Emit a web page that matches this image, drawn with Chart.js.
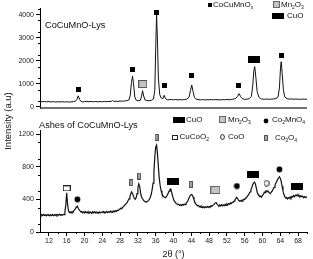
<!DOCTYPE html>
<html>
<head>
<meta charset="utf-8">
<script src="https://cdn.jsdelivr.net/npm/chart.js@4.4.1/dist/chart.umd.min.js"></script>
<style>
  html, body { margin: 0; padding: 0; background: #fff; }
  #wrap { width: 313px; height: 259px; }
</style>
</head>
<body>
<div id="wrap"><canvas id="xrd" width="313" height="259"></canvas></div>
<script>
const thetaTicks = [12, 16, 20, 24, 28, 32, 36, 40, 44, 48, 52, 56, 60, 64, 68];
const topTicks = [0, 500, 1000, 1500, 2000, 2500, 3000, 3500, 4000];
const ashTicks = [0, 200, 400, 600, 800, 1000, 1200];

// [2theta, counts] (CoCuMnO-Lys)
const topPattern = [
  [10,235],[10.5,222],[11,232],[11.5,218],[12,228],[12.5,214],[13,224],[13.5,210],[14,221],[14.5,213],
  [15,224],[15.5,211],[16,219],[16.5,209],[17,217],[17.5,224],[18,250],[18.3,330],[18.6,480],[18.9,320],
  [19.2,240],[19.6,215],[20,228],[20.5,238],[21,222],[21.5,234],[22,220],[22.5,232],[23,218],[23.5,230],
  [24,222],[24.5,236],[25,226],[25.5,232],[26,240],[26.3,275],[26.6,232],[27,246],[27.5,236],[28,254],
  [28.5,244],[29,256],[29.5,268],[30,300],[30.3,520],[30.55,1050],[30.8,1330],[31.05,950],[31.3,430],[31.6,290],
  [32,262],[32.5,280],[32.8,430],[33.05,700],[33.3,470],[33.6,300],[34,272],[34.5,262],[35,280],[35.5,340],
  [35.8,720],[36.0,2500],[36.2,4020],[36.4,2850],[36.6,1250],[36.9,540],[37.2,390],[37.6,350],[37.9,500],[38.2,360],
  [38.6,300],[39,310],[39.5,322],[40,306],[40.5,318],[41,302],[41.5,314],[42,306],[42.5,320],[43,332],
  [43.5,420],[43.8,700],[44.1,950],[44.4,660],[44.7,410],[45,340],[45.5,316],[46,304],[46.5,314],[47,300],
  [47.5,310],[48,304],[48.5,316],[49,306],[49.5,318],[50,308],[50.5,302],[51,314],[51.5,308],[52,318],
  [52.5,310],[53,324],[53.5,336],[54,370],[54.4,460],[54.75,570],[55.1,440],[55.5,350],[56,326],[56.5,334],
  [57,352],[57.5,450],[57.8,900],[58.05,1550],[58.25,1745],[58.5,1300],[58.8,660],[59.2,410],[59.6,350],[60,336],
  [60.5,326],[61,340],[61.5,330],[62,336],[62.5,344],[63,356],[63.5,430],[63.8,820],[64.05,1700],[64.2,1960],
  [64.4,1500],[64.7,720],[65,430],[65.5,356],[66,336],[66.5,344],[67,330],[67.5,340],[68,334],[68.5,326],
  [69,336],[69.5,330],[70,334]
];

// [2theta, counts] (ashes), noisy
const ashPattern = [
  [10,210],[10.2,198],[10.4,214],[10.6,202],[10.8,216],[11,204],[11.2,212],[11.4,199],[11.6,213],[11.8,203],
  [12,209],[12.2,197],[12.4,212],[12.6,201],[12.8,214],[13,200],[13.2,211],[13.4,204],[13.6,216],[13.8,202],
  [14,213],[14.2,205],[14.4,218],[14.6,203],[14.8,214],[15,206],[15.2,216],[15.4,212],[15.6,250],[15.8,330],
  [16,480],[16.2,340],[16.4,262],[16.6,238],[16.8,246],[17,232],[17.2,250],[17.4,242],[17.6,262],[17.8,270],
  [18,292],[18.2,306],[18.4,315],[18.6,290],[18.8,270],[19,258],[19.2,248],[19.4,252],[19.6,236],[19.8,246],
  [20,232],[20.2,250],[20.4,238],[20.6,246],[20.8,230],[21,248],[21.2,236],[21.4,244],[21.6,229],[21.8,247],
  [22,235],[22.2,249],[22.4,233],[22.6,246],[22.8,236],[23,241],[23.2,230],[23.4,247],[23.6,236],[23.8,244],
  [24,238],[24.2,252],[24.4,235],[24.6,246],[24.8,240],[25,253],[25.2,238],[25.4,249],[25.6,242],[25.8,256],
  [26,241],[26.2,254],[26.4,246],[26.6,259],[26.8,248],[27,262],[27.2,252],[27.4,266],[27.6,262],[27.8,276],
  [28,284],[28.2,292],[28.4,288],[28.6,305],[28.8,312],[29,328],[29.2,336],[29.4,350],[29.6,362],[29.8,385],
  [30,405],[30.2,435],[30.4,468],[30.6,492],[30.8,470],[31,440],[31.2,412],[31.4,400],[31.6,418],[31.8,470],
  [32,545],[32.2,590],[32.4,560],[32.6,480],[32.8,432],[33,410],[33.2,392],[33.4,380],[33.6,376],[33.8,368],
  [34,372],[34.2,378],[34.4,388],[34.6,402],[34.8,428],[35,462],[35.2,520],[35.4,600],[35.6,740],[35.8,920],
  [36,1040],[36.2,1065],[36.4,960],[36.6,800],[36.8,660],[37,570],[37.2,510],[37.4,470],[37.6,448],[37.8,432],
  [38,425],[38.2,420],[38.4,432],[38.6,450],[38.8,476],[39,500],[39.2,525],[39.4,528],[39.6,482],[39.8,440],
  [40,400],[40.2,378],[40.4,362],[40.6,350],[40.8,342],[41,336],[41.2,340],[41.4,326],[41.6,334],[41.8,324],
  [42,338],[42.2,328],[42.4,340],[42.6,336],[42.8,352],[43,362],[43.2,380],[43.4,405],[43.6,430],[43.8,450],
  [44,460],[44.2,455],[44.4,430],[44.6,395],[44.8,365],[45,345],[45.2,330],[45.4,322],[45.6,326],[45.8,308],
  [46,316],[46.2,300],[46.4,312],[46.6,298],[46.8,310],[47,296],[47.2,308],[47.4,300],[47.6,314],[47.8,302],
  [48,312],[48.2,306],[48.4,320],[48.6,314],[48.8,328],[49,330],[49.2,344],[49.4,356],[49.6,360],[49.8,342],
  [50,330],[50.2,320],[50.4,332],[50.6,318],[50.8,334],[51,320],[51.2,332],[51.4,322],[51.6,340],[51.8,326],
  [52,344],[52.2,334],[52.4,348],[52.6,338],[52.8,356],[53,348],[53.2,364],[53.4,362],[53.6,378],[53.8,392],
  [54,410],[54.2,425],[54.4,410],[54.6,390],[54.8,378],[55,386],[55.2,376],[55.4,392],[55.6,384],[55.8,402],
  [56,398],[56.2,418],[56.4,420],[56.6,440],[56.8,452],[57,470],[57.2,490],[57.4,515],[57.6,545],[57.8,580],
  [58,600],[58.2,612],[58.4,590],[58.6,540],[58.8,490],[59,460],[59.2,445],[59.4,432],[59.6,440],[59.8,428],
  [60,450],[60.2,462],[60.4,488],[60.6,480],[60.8,505],[61,496],[61.2,505],[61.4,488],[61.6,478],[61.8,470],
  [62,492],[62.2,505],[62.4,525],[62.6,548],[62.8,572],[63,596],[63.2,622],[63.4,645],[63.6,662],[63.8,676],
  [64,660],[64.2,620],[64.4,560],[64.6,505],[64.8,462],[65,432],[65.2,418],[65.4,424],[65.6,406],[65.8,420],
  [66,412],[66.2,430],[66.4,415],[66.6,436],[66.8,428],[67,446],[67.2,432],[67.4,452],[67.6,444],[67.8,458],
  [68,438],[68.2,448],[68.4,428],[68.6,444],[68.8,432],[69,440],[69.2,420],[69.4,434],[69.6,422],[69.8,432],
  [70,424]
];

// phase markers, top pattern
const topSpinelTheta = [18.6, 30.7, 36.2, 37.9, 44.1, 54.7, 64.3];
const topSpinelY = [762, 1600, 4086, 905, 1339, 918, 2207];
const topMn2O3Theta = [33.1];
const topMn2O3Y = [990];
const topCuOTheta = [58.1];
const topCuOY = [2064];

// phase markers, ashes pattern
const ashCuOTheta = [39.9, 57.9, 67.7];
const ashCuOY = [625, 710, 555];
const ashMn2O3Theta = [49.4];
const ashMn2O3Y = [515];
const ashCo2MnO4Theta = [18.4, 54.25, 63.8];
const ashCo2MnO4Y = [400, 563, 768];
const ashCuCoO2Theta = [16.0];
const ashCuCoO2Y = [535];
const ashCoOTheta = [60.9];
const ashCoOY = [597];
const ashCo3O4Theta = [30.5, 32.3, 36.2, 43.9];
const ashCo3O4Y = [604, 686, 1160, 584];

const FONT = '"Liberation Sans", Arial, sans-serif';

function marker(w, h, draw) {
  const c = document.createElement('canvas');
  c.width = w;
  c.height = h;
  draw(c.getContext('2d'), w, h);
  return c;
}
const box = (fill, stroke) => (ctx, w, h) => {
  ctx.fillStyle = fill;
  ctx.fillRect(0, 0, w, h);
  if (stroke) {
    ctx.strokeStyle = stroke;
    ctx.lineWidth = 1;
    ctx.strokeRect(0.5, 0.5, w - 1, h - 1);
  }
};
const disc = (fill, stroke) => (ctx, w, h) => {
  ctx.beginPath();
  ctx.ellipse(w / 2, h / 2, w / 2 - 0.6, h / 2 - 0.6, 0, 0, Math.PI * 2);
  ctx.fillStyle = fill;
  ctx.fill();
  if (stroke) {
    ctx.strokeStyle = stroke;
    ctx.lineWidth = 1;
    ctx.stroke();
  }
};

const marks = {
  spinel: marker(5, 5, box('#000')),
  mn2o3Top: marker(9, 8, box('#c4c4c4', '#555')),
  cuo: marker(12, 7, box('#000')),
  cucoo2: marker(8, 6, box('#fff', '#222')),
  co2mno4: marker(7, 7, disc('#000')),
  co3o4: marker(4, 7, box('#a8a8a8', '#555')),
  mn2o3: marker(10, 8, box('#c4c4c4', '#666')),
  coo: marker(6, 7, disc('#fff', '#222')),
  legSpinel: marker(4, 4, box('#000')),
  legMn2O3: marker(7, 7, box('#c4c4c4', '#666')),
  legCuO: marker(12, 6, box('#000')),
  legCuCoO2: marker(6, 5, box('#fff', '#222')),
  legCo2MnO4: marker(6, 6, disc('#000')),
  legCoO: marker(5, 6, disc('#fff', '#222')),
  legCo3O4: marker(4, 6, box('#a8a8a8', '#555'))
};

const line = (label, pts, axis, width) => ({
  label,
  data: pts.map(p => ({ x: p[0], y: p[1] })),
  yAxisID: axis,
  showLine: true,
  borderColor: '#111',
  borderWidth: width,
  pointRadius: 0,
  tension: 0
});
const dots = (label, theta, vals, axis, style) => ({
  label,
  data: theta.map((t, i) => ({ x: t, y: vals[i] })),
  yAxisID: axis,
  showLine: false,
  pointStyle: style,
  pointRadius: 5
});

function richText(ctx, str, x, y, size) {
  // '_' marks the next character as a subscript
  let cx = x;
  for (let i = 0; i < str.length; i++) {
    let ch = str[i];
    let sub = false;
    if (ch === '_') { sub = true; ch = str[++i]; }
    ctx.font = (sub ? size * 0.62 : size) + 'px ' + FONT;
    ctx.fillText(ch, cx, sub ? y + size * 0.32 : y);
    cx += ctx.measureText(ch).width;
  }
}

const legendItems = [
  [marks.legSpinel, 209.5, 4.5, 'CoCuMnO_x', 213, 5],
  [marks.legMn2O3, 276.5, 4, 'Mn_2O_3', 281, 5],
  [marks.legCuO, 278, 15.5, 'CuO', 287, 16],
  [marks.legCuO, 179, 119.5, 'CuO', 186, 120],
  [marks.legMn2O3, 222.5, 119, 'Mn_2O_3', 228, 120],
  [marks.legCo2MnO4, 266, 120.5, 'Co_2MnO_4', 272, 120],
  [marks.legCuCoO2, 174.5, 137, 'CuCoO_2', 179.5, 137],
  [marks.legCoO, 222, 137, 'CoO', 228, 137],
  [marks.legCo3O4, 266, 137.5, 'Co_3O_4', 275, 138]
];

const decor = {
  id: 'decor',
  afterDatasetsDraw(chart) {
    const { ctx, chartArea, scales } = chart;
    const x = scales.x, yTop = scales.yTop, yBot = scales.yBot;
    ctx.save();
    // bottom frame of the upper pattern
    ctx.strokeStyle = '#444';
    ctx.lineWidth = 1.5;
    ctx.beginPath();
    ctx.moveTo(chartArea.left, yTop.bottom);
    ctx.lineTo(chartArea.right, yTop.bottom);
    ctx.stroke();
    // minor ticks
    ctx.strokeStyle = '#000';
    ctx.lineWidth = 1;
    ctx.beginPath();
    for (let v = 14; v <= 70; v += 4) {
      const px = Math.round(x.getPixelForValue(v)) + 0.5;
      ctx.moveTo(px, chartArea.bottom);
      ctx.lineTo(px, chartArea.bottom + 2);
    }
    for (let v = 250; v <= 4250; v += 500) {
      const py = Math.round(yTop.getPixelForValue(v)) + 0.5;
      ctx.moveTo(chartArea.left, py);
      ctx.lineTo(chartArea.left - 2, py);
    }
    for (let v = 100; v <= 1100; v += 200) {
      const py = Math.round(yBot.getPixelForValue(v)) + 0.5;
      ctx.moveTo(chartArea.left, py);
      ctx.lineTo(chartArea.left - 2, py);
    }
    ctx.stroke();

    ctx.fillStyle = '#111';
    ctx.textBaseline = 'middle';
    ctx.textAlign = 'left';
    ctx.font = '9.2px ' + FONT;
    ctx.fillText('CoCuMnO-Lys', 45, 25);
    ctx.fillText('Ashes of CoCuMnO-Lys', 39, 125);

    legendItems.forEach(([img, mx, my, label, tx, ty]) => {
      ctx.drawImage(img, Math.round(mx - img.width / 2), Math.round(my - img.height / 2));
      richText(ctx, label, tx, ty, 8);
    });

    // shared y title
    ctx.translate(8.5, 121);
    ctx.rotate(-Math.PI / 2);
    ctx.textAlign = 'center';
    ctx.font = '9.5px ' + FONT;
    ctx.fillText('Intensity (a.u)', 0, 0);
    ctx.restore();
  }
};

const tickFont = { family: FONT, size: 7 };
const yAxis = (tickVals, min, max, weight) => ({
  type: 'linear',
  position: 'left',
  stack: 'panels',
  stackWeight: weight,
  min,
  max,
  border: { display: true, color: '#000', width: 1 },
  grid: { display: true, drawOnChartArea: false, drawTicks: true, tickLength: 4, color: '#000' },
  ticks: { font: tickFont, color: '#222', padding: 2, callback: v => String(v) },
  afterBuildTicks: s => { s.ticks = tickVals.map(v => ({ value: v })); },
  afterFit: s => { s.width = 40; }
});

new Chart(document.getElementById('xrd'), {
  type: 'scatter',
  data: {
    datasets: [
      line('CoCuMnO-Lys', topPattern, 'yTop', 1),
      line('Ashes of CoCuMnO-Lys', ashPattern, 'yBot', 1.2),
      dots('CoCuMnOx', topSpinelTheta, topSpinelY, 'yTop', marks.spinel),
      dots('Mn2O3', topMn2O3Theta, topMn2O3Y, 'yTop', marks.mn2o3Top),
      dots('CuO', topCuOTheta, topCuOY, 'yTop', marks.cuo),
      dots('CuO ashes', ashCuOTheta, ashCuOY, 'yBot', marks.cuo),
      dots('Mn2O3 ashes', ashMn2O3Theta, ashMn2O3Y, 'yBot', marks.mn2o3),
      dots('Co2MnO4', ashCo2MnO4Theta, ashCo2MnO4Y, 'yBot', marks.co2mno4),
      dots('CuCoO2', ashCuCoO2Theta, ashCuCoO2Y, 'yBot', marks.cucoo2),
      dots('CoO', ashCoOTheta, ashCoOY, 'yBot', marks.coo),
      dots('Co3O4', ashCo3O4Theta, ashCo3O4Y, 'yBot', marks.co3o4)
    ]
  },
  options: {
    responsive: false,
    animation: false,
    devicePixelRatio: 1,
    layout: { padding: { top: 8, right: 2, bottom: 0, left: 0 } },
    plugins: { legend: { display: false }, tooltip: { enabled: false }, title: { display: false } },
    scales: {
      x: {
        type: 'linear',
        position: 'bottom',
        min: 10,
        max: 70,
        border: { display: true, color: '#000', width: 1 },
        grid: { display: true, drawOnChartArea: false, drawTicks: true, tickLength: 4, color: '#000' },
        ticks: { font: tickFont, color: '#222', padding: 1, autoSkip: false, maxRotation: 0, callback: v => String(v) },
        afterBuildTicks: s => { s.ticks = thetaTicks.map(v => ({ value: v })); },
        title: { display: true, text: '2θ (°)', color: '#111', font: { family: FONT, size: 9, lineHeight: 1 }, padding: { top: 0, bottom: 0 } },
        afterFit: s => { s.height = 27; }
      },
      yBot: yAxis(ashTicks, 0, 1250, 102),
      yGap: {
        type: 'linear',
        position: 'left',
        stack: 'panels',
        stackWeight: 22,
        border: { display: false },
        grid: { display: false },
        ticks: { display: false },
        afterFit: s => { s.width = 40; }
      },
      yTop: yAxis(topTicks, -50, 4290, 100)
    }
  },
  plugins: [decor]
});
</script>
</body>
</html>
